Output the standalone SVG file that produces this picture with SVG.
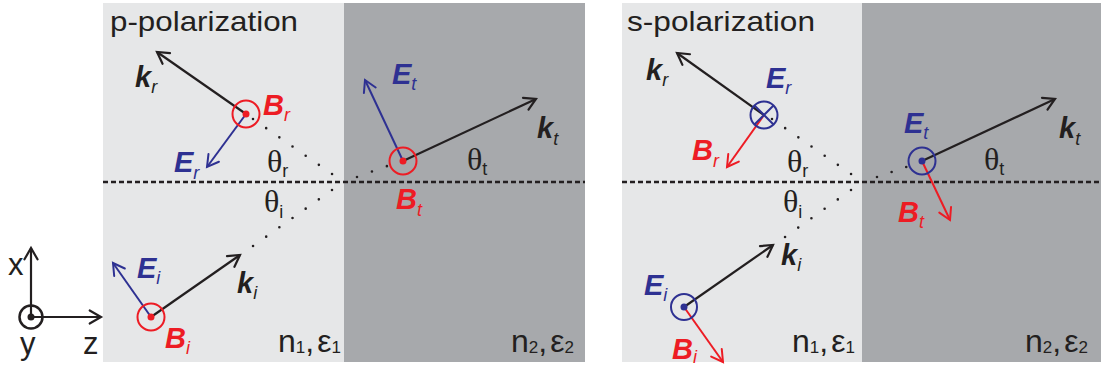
<svg xmlns="http://www.w3.org/2000/svg" width="1101" height="367" viewBox="0 0 1101 367">
<defs>
<style>
.bgL{fill:#e6e7e8}
.bgD{fill:#a7a9ac}
.iface{stroke:#231f20;stroke-width:2.5;stroke-dasharray:5 3;fill:none}
.dots{stroke:#231f20;stroke-width:2.6;stroke-linecap:round;fill:none}
.vk{stroke:#231f20;stroke-width:2.2;fill:none;marker-end:url(#ak)}
.ve{stroke:#2e3192;stroke-width:2;fill:none;marker-end:url(#ae)}
.vb{stroke:#ed1c24;stroke-width:2;fill:none;marker-end:url(#ab)}
.cr{fill:none;stroke:#ed1c24;stroke-width:2}
.cb{fill:none;stroke:#2e3192;stroke-width:2}
.lab{font-family:"Liberation Sans",Arial,sans-serif;font-weight:bold;font-style:italic;font-size:29px}
.sub{font-weight:normal;font-size:18px}
.th{font-family:"Liberation Serif","Times New Roman",serif;font-size:32px;fill:#231f20}
.ths{font-family:"Liberation Sans",Arial,sans-serif;font-size:18px}
.txt{font-family:"Liberation Sans",Arial,sans-serif;fill:#231f20}
.nl{font-size:32px}
.ns{font-size:17px}
.k{fill:#231f20}.e{fill:#2e3192}.b{fill:#ed1c24}
</style>
<marker id="ak" markerUnits="userSpaceOnUse" viewBox="-16 -10 20 20" markerWidth="20" markerHeight="20" refX="0" refY="0" orient="auto" overflow="visible"><path d="M-11.3,-6.5 L0,0 L-11.3,6.5" fill="none" stroke="#231f20" stroke-width="2.2" stroke-linecap="round"/></marker>
<marker id="ae" markerUnits="userSpaceOnUse" viewBox="-16 -10 20 20" markerWidth="20" markerHeight="20" refX="0" refY="0" orient="auto" overflow="visible"><path d="M-11.3,-6.5 L0,0 L-11.3,6.5" fill="none" stroke="#2e3192" stroke-width="2" stroke-linecap="round"/></marker>
<marker id="ab" markerUnits="userSpaceOnUse" viewBox="-16 -10 20 20" markerWidth="20" markerHeight="20" refX="0" refY="0" orient="auto" overflow="visible"><path d="M-11.3,-6.5 L0,0 L-11.3,6.5" fill="none" stroke="#ed1c24" stroke-width="2" stroke-linecap="round"/></marker>
</defs>
<rect width="1101" height="367" fill="#ffffff"/>

<!-- coordinate axes -->
<g id="axes">
<line x1="31" y1="317" x2="31" y2="248" class="vk"/>
<line x1="31" y1="317" x2="101" y2="317" class="vk"/>
<circle cx="31" cy="317" r="11.5" fill="none" stroke="#231f20" stroke-width="2.5"/>
<circle cx="31" cy="317" r="3.5" fill="#231f20"/>
<text class="txt" x="8" y="275" font-size="31">x</text>
<text class="txt" x="20" y="354" font-size="31">y</text>
<text class="txt" x="83" y="354" font-size="31">z</text>
</g>

<!-- p-polarization panel -->
<g id="p-panel">
<rect class="bgL" x="103" y="3" width="241" height="359"/>
<rect class="bgD" x="344" y="3" width="241" height="359"/>
<line class="iface" x1="103" y1="182" x2="585" y2="182"/>
<text class="txt" x="110" y="31" font-size="28" textLength="188" lengthAdjust="spacingAndGlyphs">p-polarization</text>
<g id="p-dots">
<line class="dots" x1="253" y1="119" x2="332.3" y2="174.2" stroke-dasharray="0 16.05"/>
<line class="dots" x1="332" y1="190" x2="252.7" y2="246.2" stroke-dasharray="0 16.13"/>
<line class="dots" x1="357" y1="177" x2="387.3" y2="166" stroke-dasharray="0 15.9"/>
</g>
<g id="p-reflected">
<line class="vk" x1="246" y1="114" x2="157" y2="52"/>
<line class="ve" x1="246" y1="114" x2="207" y2="167"/>
<circle class="cr" cx="246" cy="114" r="13.5"/>
<circle cx="246" cy="114" r="3.5" fill="#ed1c24"/>
<text class="lab k" x="135" y="87">k<tspan class="sub" dy="6">r</tspan></text>
<text class="lab b" x="263" y="115">B<tspan class="sub" dy="6">r</tspan></text>
<text class="lab e" x="174" y="172">E<tspan class="sub" dy="7">r</tspan></text>
</g>
<g id="p-transmitted">
<line class="vk" x1="403" y1="161" x2="536" y2="99"/>
<line class="ve" x1="403" y1="161" x2="365" y2="80"/>
<circle class="cr" cx="403" cy="161" r="13.5"/>
<circle cx="403" cy="161" r="3.5" fill="#ed1c24"/>
<text class="lab e" x="392" y="84">E<tspan class="sub" dy="6">t</tspan></text>
<text class="lab k" x="537" y="138">k<tspan class="sub" dy="7">t</tspan></text>
<text class="lab b" x="396" y="209">B<tspan class="sub" dy="7">t</tspan></text>
</g>
<g id="p-incident">
<line class="vk" x1="151" y1="317" x2="240" y2="255"/>
<line class="ve" x1="151" y1="317" x2="113" y2="263"/>
<circle class="cr" cx="151" cy="317" r="13.5"/>
<circle cx="151" cy="317" r="3.5" fill="#ed1c24"/>
<text class="lab e" x="137" y="278">E<tspan class="sub" dy="6">i</tspan></text>
<text class="lab k" x="237" y="293">k<tspan class="sub" dy="6">i</tspan></text>
<text class="lab b" x="165" y="348">B<tspan class="sub" dy="6">i</tspan></text>
</g>
<g id="p-angles">
<text class="th" x="267" y="172">θ<tspan class="ths" dy="5">r</tspan></text>
<text class="th" x="264" y="212">θ<tspan class="ths" dy="6">i</tspan></text>
<text class="th" x="467" y="170">θ<tspan class="ths" dy="5">t</tspan></text>
</g>
<text class="txt nl" x="278" y="352">n<tspan class="ns" dy="1">1</tspan><tspan dy="-1">,</tspan><tspan dx="3">ε</tspan><tspan class="ns" dy="1">1</tspan></text>
<text class="txt nl" x="511" y="352">n<tspan class="ns" dy="1">2</tspan><tspan dy="-1">,</tspan><tspan dx="3">ε</tspan><tspan class="ns" dy="1">2</tspan></text>
</g>

<!-- s-polarization panel -->
<g id="s-panel">
<rect class="bgL" x="622" y="3" width="240" height="359"/>
<rect class="bgD" x="862" y="3" width="239" height="359"/>
<line class="iface" x1="622" y1="182" x2="1101" y2="182"/>
<text class="txt" x="627" y="31" font-size="28" textLength="188" lengthAdjust="spacingAndGlyphs">s-polarization</text>
<g id="s-dots">
<line class="dots" x1="772" y1="119" x2="851.3" y2="174.2" stroke-dasharray="0 16.05"/>
<line class="dots" x1="851" y1="190" x2="784.8" y2="237.2" stroke-dasharray="0 16.2"/>
<line class="dots" x1="877" y1="177" x2="906.3" y2="167" stroke-dasharray="0 15.45"/>
</g>
<g id="s-reflected">
<line class="vk" x1="764" y1="115" x2="677" y2="53"/>
<line class="vb" x1="764" y1="115" x2="727" y2="167"/>
<circle class="cb" cx="764" cy="115" r="13.5"/>
<path d="M754.5,105.5 L773.5,124.5 M773.5,105.5 L754.5,124.5" stroke="#2e3192" stroke-width="2" fill="none"/>
<text class="lab k" x="646" y="80">k<tspan class="sub" dy="6">r</tspan></text>
<text class="lab e" x="766" y="88">E<tspan class="sub" dy="6">r</tspan></text>
<text class="lab b" x="692" y="160">B<tspan class="sub" dy="7">r</tspan></text>
</g>
<g id="s-transmitted">
<line class="vk" x1="922" y1="161" x2="1055" y2="99"/>
<line class="vb" x1="922" y1="161" x2="950" y2="220"/>
<circle class="cb" cx="922" cy="161" r="13.5"/>
<circle cx="922" cy="161" r="3.5" fill="#2e3192"/>
<text class="lab e" x="904" y="133">E<tspan class="sub" dy="6">t</tspan></text>
<text class="lab k" x="1059" y="138">k<tspan class="sub" dy="7">t</tspan></text>
<text class="lab b" x="898" y="222">B<tspan class="sub" dy="6">t</tspan></text>
</g>
<g id="s-incident">
<line class="vk" x1="684" y1="307" x2="773" y2="245"/>
<line class="vb" x1="684" y1="307" x2="723" y2="362"/>
<circle class="cb" cx="684" cy="307" r="13"/>
<circle cx="684" cy="307" r="3.5" fill="#2e3192"/>
<text class="lab e" x="644" y="295">E<tspan class="sub" dy="6">i</tspan></text>
<text class="lab k" x="781" y="265">k<tspan class="sub" dy="6">i</tspan></text>
<text class="lab b" x="672" y="359">B<tspan class="sub" dy="4">i</tspan></text>
</g>
<g id="s-angles">
<text class="th" x="787" y="172">θ<tspan class="ths" dy="5">r</tspan></text>
<text class="th" x="783" y="212">θ<tspan class="ths" dy="6">i</tspan></text>
<text class="th" x="984" y="170">θ<tspan class="ths" dy="5">t</tspan></text>
</g>
<text class="txt nl" x="792" y="352">n<tspan class="ns" dy="1">1</tspan><tspan dy="-1">,</tspan><tspan dx="3">ε</tspan><tspan class="ns" dy="1">1</tspan></text>
<text class="txt nl" x="1025" y="352">n<tspan class="ns" dy="1">2</tspan><tspan dy="-1">,</tspan><tspan dx="3">ε</tspan><tspan class="ns" dy="1">2</tspan></text>
</g>
</svg>
